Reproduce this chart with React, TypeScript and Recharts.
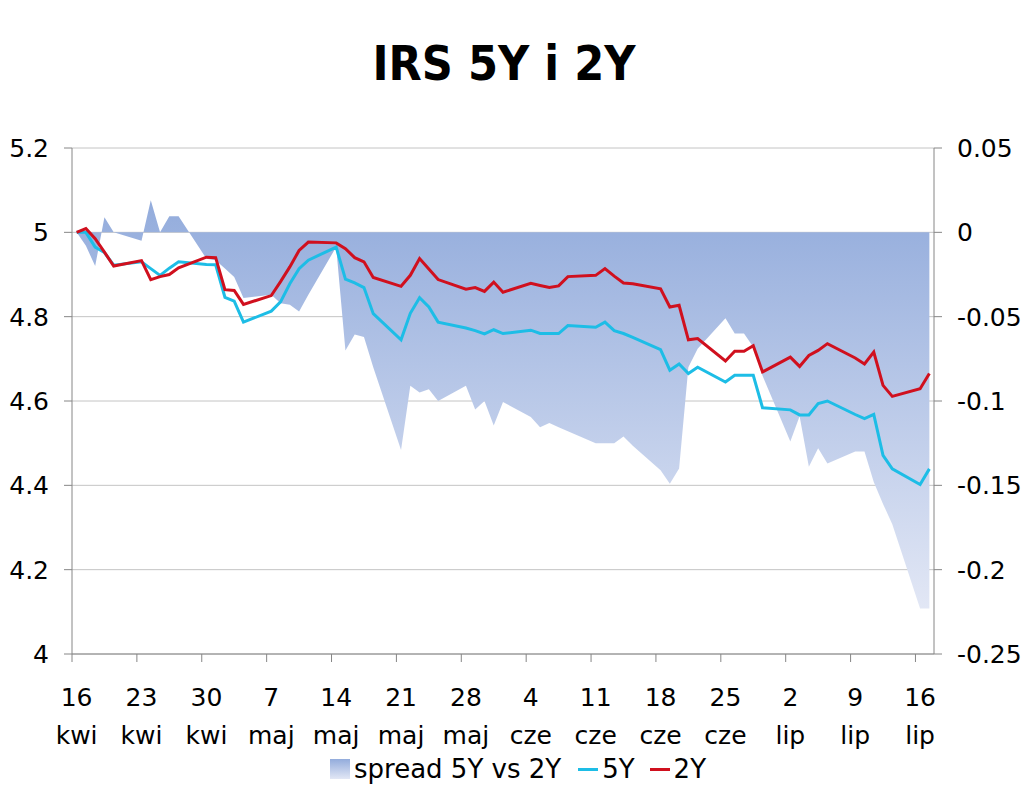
import React from 'react';
import { ComposedChart, Area, Line, XAxis, YAxis, CartesianGrid, Legend } from 'recharts';

// trading days, 2012
const DATES = [
  '2012-04-16', '2012-04-17', '2012-04-18', '2012-04-19', '2012-04-20',
  '2012-04-23', '2012-04-24', '2012-04-25', '2012-04-26', '2012-04-27',
  '2012-04-30', '2012-05-01', '2012-05-02', '2012-05-03', '2012-05-04',
  '2012-05-07', '2012-05-08', '2012-05-09', '2012-05-10', '2012-05-11',
  '2012-05-14', '2012-05-15', '2012-05-16', '2012-05-17', '2012-05-18',
  '2012-05-21', '2012-05-22', '2012-05-23', '2012-05-24', '2012-05-25',
  '2012-05-28', '2012-05-29', '2012-05-30', '2012-05-31', '2012-06-01',
  '2012-06-04', '2012-06-05', '2012-06-06', '2012-06-07', '2012-06-08',
  '2012-06-11', '2012-06-12', '2012-06-13', '2012-06-14', '2012-06-15',
  '2012-06-18', '2012-06-19', '2012-06-20', '2012-06-21', '2012-06-22',
  '2012-06-25', '2012-06-26', '2012-06-27', '2012-06-28', '2012-06-29',
  '2012-07-02', '2012-07-03', '2012-07-04', '2012-07-05', '2012-07-06',
  '2012-07-09', '2012-07-10', '2012-07-11', '2012-07-12', '2012-07-13',
  '2012-07-16', '2012-07-17',
];

const IRS_5Y = [
  5.0, 5.0, 4.965, 4.952, 4.922,
  4.93, 4.914, 4.898, 4.915, 4.93,
  4.924, 4.923, 4.846, 4.837, 4.787,
  4.813, 4.835, 4.878, 4.914, 4.934,
  4.965, 4.889, 4.88, 4.869, 4.807,
  4.745, 4.808, 4.845, 4.823, 4.787,
  4.773, 4.767, 4.759, 4.769, 4.76,
  4.768, 4.76, 4.76, 4.76, 4.779,
  4.775, 4.787, 4.767, 4.76, 4.751,
  4.722, 4.673, 4.688, 4.665, 4.68,
  4.645, 4.661, 4.661, 4.661, 4.584,
  4.579, 4.567, 4.567, 4.594, 4.6,
  4.568, 4.558, 4.568, 4.471, 4.439,
  4.402, 4.439,
];

const IRS_2Y = [
  5.0, 5.009, 4.985, 4.953, 4.92,
  4.933, 4.888, 4.895, 4.9, 4.916,
  4.941, 4.94, 4.864, 4.862, 4.829,
  4.85, 4.883, 4.918, 4.957, 4.977,
  4.975, 4.961, 4.94, 4.93, 4.893,
  4.872, 4.898, 4.938, 4.913, 4.888,
  4.865, 4.869, 4.86, 4.882, 4.858,
  4.879, 4.874, 4.869, 4.873, 4.895,
  4.898, 4.914, 4.896, 4.88, 4.878,
  4.866, 4.823, 4.827, 4.745, 4.748,
  4.695, 4.718, 4.718, 4.731, 4.669,
  4.704, 4.682, 4.708, 4.72, 4.736,
  4.702, 4.688, 4.716, 4.637, 4.611,
  4.629, 4.665,
];

const SPREAD = [
  0, -0.008, -0.02, 0.009, 0.0,
  -0.005, 0.019, 0.0, 0.0095, 0.0095,
  -0.0156, -0.0166, -0.0215, -0.0265, -0.039,
  -0.037, -0.042, -0.043, -0.047, -0.037,
  -0.0087, -0.07, -0.0605, -0.062, -0.08,
  -0.129, -0.091, -0.095, -0.093, -0.1,
  -0.091, -0.105, -0.1, -0.1145, -0.1006,
  -0.1095, -0.1155, -0.113, -0.1155, -0.118,
  -0.125, -0.125, -0.125, -0.121, -0.1265,
  -0.141, -0.149, -0.14, -0.08, -0.069,
  -0.051, -0.06, -0.06, -0.068, -0.085,
  -0.124, -0.109, -0.139, -0.128, -0.137,
  -0.13, -0.13, -0.148, -0.161, -0.173,
  -0.223, -0.223,
];

const TICK_DATES = [
  '2012-04-16', '2012-04-23', '2012-04-30', '2012-05-07', '2012-05-14',
  '2012-05-21', '2012-05-28', '2012-06-04', '2012-06-11', '2012-06-18',
  '2012-06-25', '2012-07-02', '2012-07-09', '2012-07-16',
];
const MONTHS = ['sty', 'lut', 'mar', 'kwi', 'maj', 'cze', 'lip', 'sie', 'wrz', 'paź', 'lis', 'gru'];
const LEFT_TICKS = [4, 4.2, 4.4, 4.6, 4.8, 5, 5.2];
const RIGHT_TICKS = [-0.25, -0.2, -0.15, -0.1, -0.05, 0, 0.05];

const DAY_MS = 86400000;
const START = Date.parse(DATES[0]);
const dayOf = (iso: string) => Math.round((Date.parse(iso) - START) / DAY_MS);
const LAST_DAY = dayOf(DATES[DATES.length - 1]);

const data = DATES.map((d, i) => ({
  day: dayOf(d),
  y5: IRS_5Y[i],
  y2: IRS_2Y[i],
  spread: SPREAD[i],
}));

const W = 1024;
const H = 791;
const MARGIN = { top: 148, right: 0, bottom: 4, left: 0 };
const LEFT_W = 72;
const RIGHT_W = 90;
const LEGEND_H = 36;
const XAXIS_H = 97;
const PLOT_BOTTOM = H - MARGIN.bottom - LEGEND_H - XAXIS_H;
const HALF_DAY = (W - LEFT_W - RIGHT_W) / (LAST_DAY + 1) / 2;

const AXIS = '#868686';
const GRID = '#c4c4c4';
const FONT = "'DejaVu Sans', Verdana, sans-serif";
const CYAN = '#1dbde6';
const RED = '#d0101e';

function DateTick({ x, payload }: any) {
  const d = new Date(START + payload.value * DAY_MS);
  const tx = x - HALF_DAY;
  return (
    <g>
      <line x1={tx} x2={tx} y1={PLOT_BOTTOM} y2={PLOT_BOTTOM + 8} stroke={AXIS} />
      <text x={x} y={PLOT_BOTTOM + 52} textAnchor="middle" fontSize={25} fontFamily={FONT} fill="#000">
        {d.getUTCDate()}
      </text>
      <text x={x} y={PLOT_BOTTOM + 90} textAnchor="middle" fontSize={25} fontFamily={FONT} fill="#000">
        {MONTHS[d.getUTCMonth()]}
      </text>
    </g>
  );
}

function LegendContent() {
  const item = { display: 'flex', alignItems: 'center' } as const;
  return (
    <div
      style={{
        height: LEGEND_H,
        display: 'flex',
        justifyContent: 'center',
        alignItems: 'center',
        paddingLeft: 12,
        fontFamily: FONT,
        fontSize: 26,
        color: '#000',
      }}
    >
      <span style={item}>
        <span style={{ width: 20, height: 20, background: 'linear-gradient(#93acdc, #e2e7f5)', marginRight: 4 }} />
        spread 5Y vs 2Y
      </span>
      <span style={{ ...item, marginLeft: 17 }}>
        <span style={{ width: 20, height: 3, background: CYAN, marginRight: 4 }} />
        5Y
      </span>
      <span style={{ ...item, marginLeft: 15 }}>
        <span style={{ width: 20, height: 3, background: RED, marginRight: 4 }} />
        2Y
      </span>
    </div>
  );
}

export default function App() {
  return (
    <div style={{ position: 'absolute', left: 0, top: 0, width: W, height: H, background: '#fff', fontFamily: FONT }}>
      <div
        style={{
          position: 'absolute',
          left: 0,
          top: 39,
          width: 1008,
          textAlign: 'center',
          fontFamily: "'DejaVu Sans Condensed', 'DejaVu Sans', sans-serif",
          fontStretch: 'condensed',
          fontWeight: 'bold',
          fontSize: 48,
          lineHeight: '48px',
        }}
      >
        IRS 5Y i 2Y
      </div>
      <ComposedChart width={W} height={H} data={data} margin={MARGIN}>
        <defs>
          <linearGradient id="spreadFill" x1="0" y1="0" x2="0" y2="1">
            <stop offset="0%" stopColor="#93acdc" />
            <stop offset="100%" stopColor="#e2e7f5" />
          </linearGradient>
        </defs>
        <CartesianGrid yAxisId="left" vertical={false} stroke={GRID} />
        <XAxis
          type="number"
          dataKey="day"
          domain={[-0.5, LAST_DAY + 0.5]}
          ticks={TICK_DATES.map(dayOf)}
          interval={0}
          height={XAXIS_H}
          tickLine={false}
          tickSize={8}
          tickMargin={0}
          axisLine={{ stroke: AXIS }}
          tick={<DateTick />}
        />
        <YAxis
          yAxisId="left"
          orientation="left"
          width={LEFT_W}
          domain={[4, 5.2]}
          ticks={LEFT_TICKS}
          interval={0}
          tickSize={8}
          tickMargin={15}
          axisLine={{ stroke: AXIS }}
          tickLine={{ stroke: AXIS }}
          tick={{ fontSize: 25, fill: '#000', fontFamily: FONT }}
          tickFormatter={(v: number) => String(v)}
        />
        <YAxis
          yAxisId="right"
          orientation="right"
          width={RIGHT_W}
          domain={[-0.25, 0.05]}
          ticks={RIGHT_TICKS}
          interval={0}
          tickSize={8}
          tickMargin={15}
          axisLine={{ stroke: AXIS }}
          tickLine={{ stroke: AXIS }}
          tick={{ fontSize: 25, fill: '#000', fontFamily: FONT }}
          tickFormatter={(v: number) => String(v)}
        />
        <Area
          yAxisId="right"
          type="linear"
          dataKey="spread"
          name="spread 5Y vs 2Y"
          stroke="none"
          fill="url(#spreadFill)"
          fillOpacity={1}
          baseValue={0}
          isAnimationActive={false}
        />
        <Line
          yAxisId="left"
          type="linear"
          dataKey="y5"
          name="5Y"
          stroke={CYAN}
          strokeWidth={3}
          dot={false}
          isAnimationActive={false}
        />
        <Line
          yAxisId="left"
          type="linear"
          dataKey="y2"
          name="2Y"
          stroke={RED}
          strokeWidth={3}
          dot={false}
          isAnimationActive={false}
        />
        <Legend verticalAlign="bottom" content={<LegendContent />} />
      </ComposedChart>
    </div>
  );
}
